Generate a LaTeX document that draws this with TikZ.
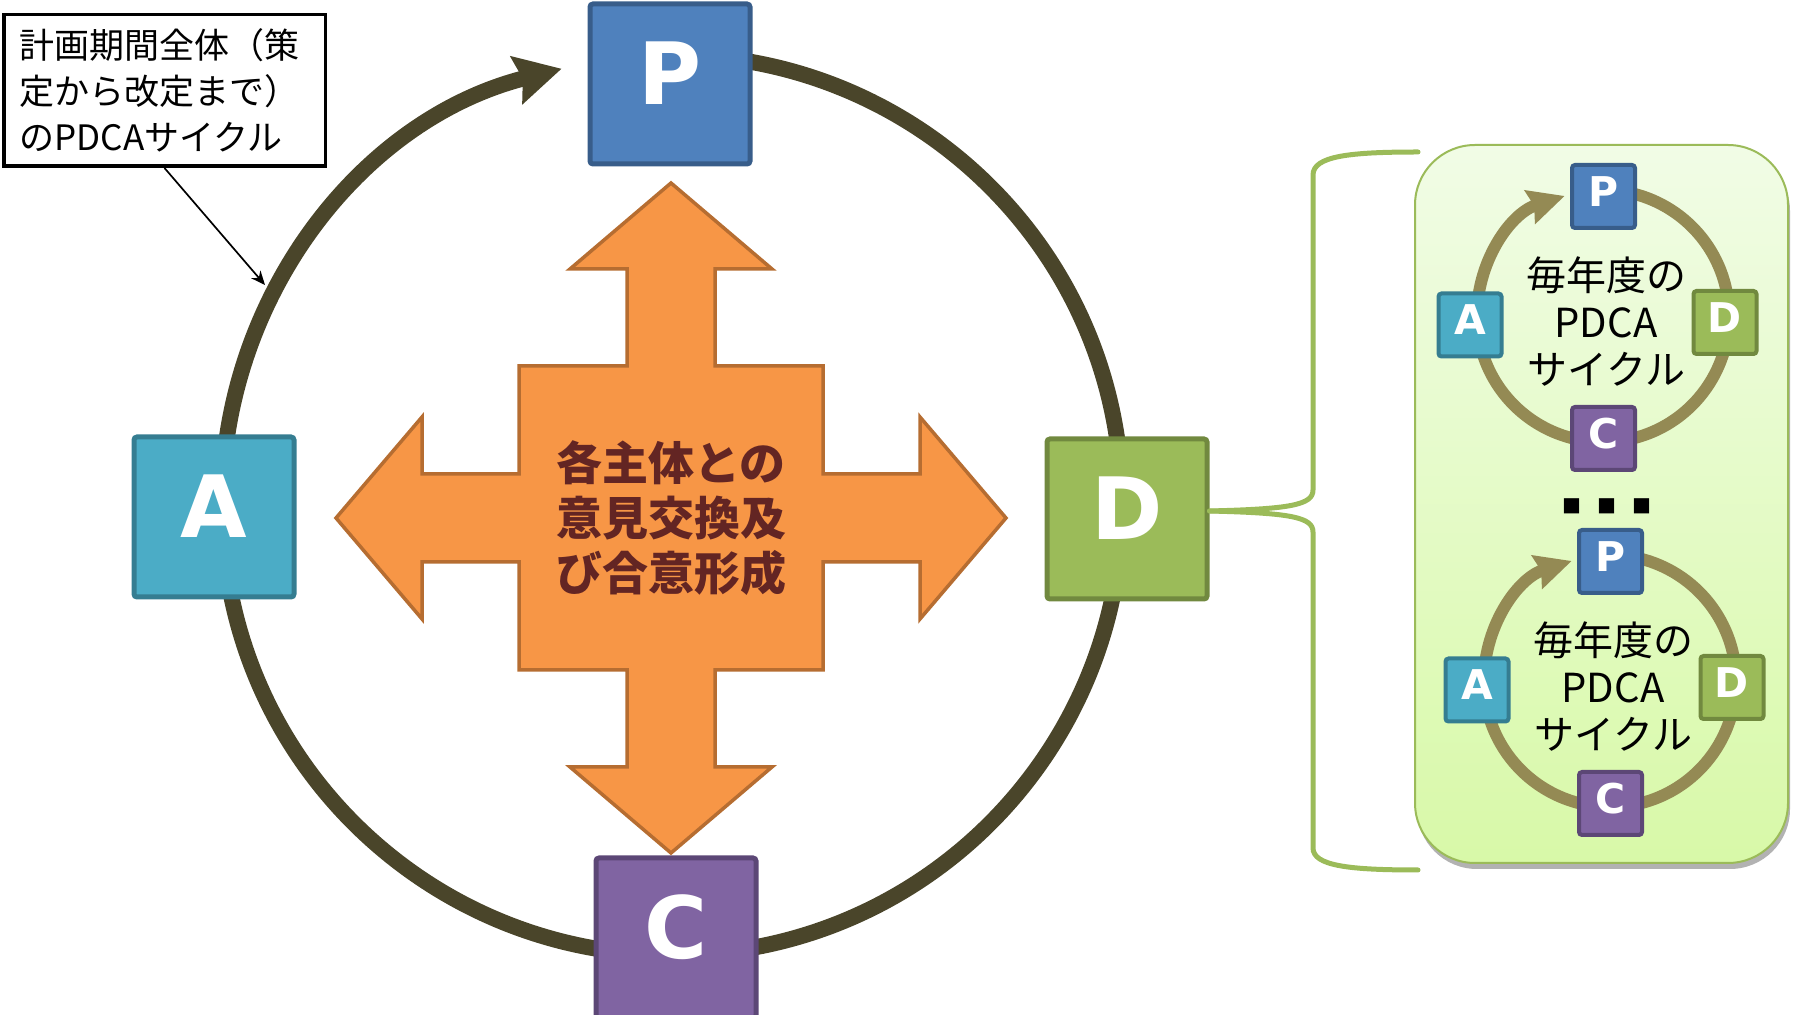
\documentclass[tikz,border=0pt]{standalone}
\usepackage{fontspec}
\setmainfont{Noto Sans CJK JP}
\newfontfamily\pdcafont{DejaVu Sans}
\usetikzlibrary{arrows.meta,shadows}

\definecolor{planblue}{HTML}{4F81BD}
\definecolor{planedge}{HTML}{385D8A}
\definecolor{dogreen}{HTML}{9BBB59}
\definecolor{doedge}{HTML}{71893F}
\definecolor{checkpurple}{HTML}{8064A2}
\definecolor{checkedge}{HTML}{5C4776}
\definecolor{actaqua}{HTML}{4BACC6}
\definecolor{actedge}{HTML}{357D91}
\definecolor{ringdark}{HTML}{4A452A}
\definecolor{ringolive}{HTML}{948A54}
\definecolor{talkorange}{HTML}{F79646}
\definecolor{talkedge}{HTML}{B66D31}
\definecolor{talkbrown}{HTML}{632523}
\definecolor{panetop}{HTML}{F1FCE6}
\definecolor{panebot}{HTML}{D8F9A8}

\tikzset{
  phase/.style={draw, line width=2.5pt, minimum size=80pt, inner sep=0pt, rounded corners=1.5pt, text=white,
    font=\pdcafont\bfseries\fontsize{43pt}{43pt}\selectfont, text height=31.5pt, text depth=11pt},
  subphase/.style={phase, line width=2pt, minimum size=31.5pt,
    font=\pdcafont\bfseries\fontsize{20.5pt}{20.5pt}\selectfont, text height=15pt, text depth=5pt},
  planbox/.style={fill=planblue, draw=planedge},
  dobox/.style={fill=dogreen, draw=doedge},
  checkbox/.style={fill=checkpurple, draw=checkedge},
  actbox/.style={fill=actaqua, draw=actedge},
  bigring/.style={draw=ringdark, line width=8pt, -{Stealth[length=23pt, width=24pt, inset=3pt]}},
  smallring/.style={draw=ringolive, line width=6pt, -{Stealth[length=18pt, width=17pt, inset=2pt]}},
  crossarrow/.style={fill=talkorange, draw=talkedge, line width=1.75pt, line join=miter},
  notebox/.style={draw, line width=1.75pt, minimum width=160.75pt, minimum height=75.75pt, text width=144.75pt,
    inner xsep=8pt, align=left, font=\fontsize{17.5pt}{23pt}\selectfont},
  pointer/.style={line width=0.85pt, -{Stealth[length=7pt, width=6pt]}},
  brace/.style={draw=dogreen, line width=2.5pt, line cap=round},
  panel/.style={draw=dogreen, line width=1pt, rounded corners=30pt, top color=panetop, bottom color=panebot,
    drop shadow={shadow xshift=1pt, shadow yshift=-3pt, opacity=0.3, fill=black}},
  yeartext/.style={align=center, inner sep=0pt, font=\fontsize{20pt}{23.5pt}\selectfont}
}

\begin{document}
\begin{tikzpicture}[x=0.5pt, y=-0.5pt]
  \useasboundingbox (0,0) rectangle (1796,1015);
  \clip (0,0) rectangle (1796,1015);

  % whole-period cycle
  \coordinate (hub) at (672,505);
  \draw[bigring] (hub) ++(265:450) arc[start angle=265, end angle=615.8, radius=450];

  \node[phase, planbox] (P) at (670,84) {P};
  \node[phase, dobox] (D) at (1127,519) {D};
  \node[phase, checkbox] (C) at (676,938) {C};
  \node[phase, actbox] (A) at (214,517) {A};

  % four-way arrow in the middle
  \coordinate (cross) at (671,518);
  \draw[crossarrow, shift={(cross)}] (0,-335) -- (101,-249) -- (44,-249) -- (44,-152) -- (152,-152) -- (152,-44)
    -- (249,-44) -- (249,-101) -- (335,0) -- (249,101) -- (249,44) -- (152,44) -- (152,152) -- (44,152)
    -- (44,249) -- (101,249) -- (0,335) -- (-101,249) -- (-44,249) -- (-44,152) -- (-152,152) -- (-152,44)
    -- (-249,44) -- (-249,101) -- (-335,0) -- (-249,-101) -- (-249,-44) -- (-152,-44) -- (-152,-152)
    -- (-44,-152) -- (-44,-249) -- (-101,-249) -- cycle;
  \node[align=center, text=talkbrown, font=\bfseries\fontsize{23pt}{27.5pt}\selectfont] (talk) at (cross)
    {各主体との\\意見交換及\\び合意形成};

  % callout
  \node[notebox, anchor=north west] (note) at (2,13) {計画期間全体（策\\定から改定まで）\\のPDCAサイクル};
  \coordinate (notetip) at (265,285);
  \draw[pointer] (note.south) -- (notetip);

  % brace to the yearly cycles
  \coordinate (bracetop) at (1418,152);
  \coordinate (bracebot) at (1418,870);
  \draw[brace] ([yshift=4pt]D.east) .. controls (1290,509) and (1313,505) .. (1313,490) -- (1313,175)
    .. controls (1313,156) and (1350,152) .. (bracetop);
  \draw[brace] ([yshift=4pt]D.east) .. controls (1290,513) and (1313,517) .. (1313,532) -- (1313,848)
    .. controls (1313,866) and (1350,870) .. (bracebot);

  \node[panel, minimum width=186.5pt, minimum height=359pt] (yearly) at (1601.5,504) {};

  % yearly cycles
  \foreach \k/\dx/\dy in {1/0/0, 2/7/365} {
    \begin{scope}[shift={(\dx,\dy)}]
      \draw[smallring] (1603,316) ++(265:126) arc[start angle=265, end angle=612.3, radius=126];
      \node[subphase, planbox] (P\k) at (1603.5,196.5) {P};
      \node[subphase, dobox] (D\k) at (1725,322.5) {D};
      \node[subphase, checkbox] (C\k) at (1603.5,438.5) {C};
      \node[subphase, actbox] (A\k) at (1470,325) {A};
      \node[yeartext] (cycle\k) at (1606,322) {毎年度の\\PDCA\\サイクル};
    \end{scope}
  }
  \node[font=\fontsize{9.5pt}{9.5pt}\selectfont, inner sep=0pt] (dots) at (1607,506) {■\hspace{8pt}■\hspace{8pt}■};
\end{tikzpicture}
\end{document}
